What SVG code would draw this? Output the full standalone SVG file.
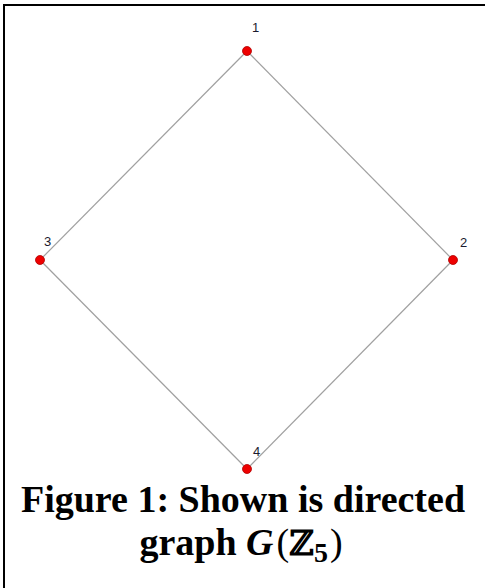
<svg xmlns="http://www.w3.org/2000/svg" width="485" height="588" viewBox="0 0 485 588">
<style>
.edge{stroke:#a0a0a0;stroke-width:1.2;fill:none}
.node{fill:#ee0000;stroke:#b00000;stroke-width:0.8}
.lbl{font-family:"Liberation Sans",Arial,sans-serif;font-size:13px;fill:#1a1a2e}
.title{font-family:"Liberation Serif","Times New Roman",serif;font-size:38px;font-weight:bold;fill:#000}
</style>
<rect width="485" height="588" fill="#fff"/>
<polyline points="4,588 4,5 485,5" fill="none" stroke="#000" stroke-width="2"/>
<g id="edges">
<line class="edge" x1="247" y1="51" x2="453" y2="260"/>
<line class="edge" x1="247" y1="51" x2="40" y2="260"/>
<line class="edge" x1="40" y1="260" x2="247" y2="469"/>
<line class="edge" x1="453" y1="260" x2="247" y2="469"/>
</g>
<g id="n1"><circle class="node" cx="247" cy="51" r="4.5"/><text class="lbl" x="252" y="32">1</text></g>
<g id="n2"><circle class="node" cx="453" cy="260" r="4.5"/><text class="lbl" x="460" y="247">2</text></g>
<g id="n3"><circle class="node" cx="40" cy="260" r="4.5"/><text class="lbl" x="44" y="246">3</text></g>
<g id="n4"><circle class="node" cx="247" cy="469" r="4.5"/><text class="lbl" x="253" y="456">4</text></g>
<g id="caption">
<text class="title" x="243" y="512" text-anchor="middle">Figure 1: Shown is directed</text>
<text class="title" x="241" y="555" text-anchor="middle">graph <tspan font-style="italic">G</tspan><tspan font-weight="normal" dx="3">(</tspan><tspan font-family="DejaVu Serif,serif" font-size="34">ℤ</tspan><tspan font-size="28" dy="7">5</tspan><tspan font-weight="normal" dy="-7" dx="2">)</tspan></text>
</g>
</svg>
